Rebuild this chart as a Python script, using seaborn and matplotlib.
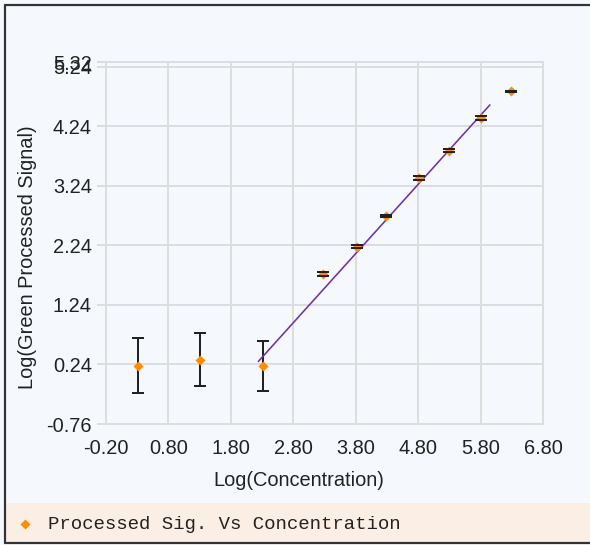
import matplotlib
matplotlib.use("Agg")
import matplotlib.pyplot as plt
import seaborn as sns
import pandas as pd
from matplotlib.patches import Rectangle
from matplotlib.lines import Line2D

# ---- data ----
log_conc = [0.31, 1.31, 2.31, 3.28, 3.82, 4.29, 4.82, 5.30, 5.81, 6.29]
log_signal = [0.22, 0.32, 0.22, 1.76, 2.22, 2.73, 3.37, 3.83, 4.38, 4.83]
signal_err = [0.46, 0.45, 0.42, 0.03, 0.03, 0.02, 0.03, 0.03, 0.03, 0.01]
fit_x = [2.24, 5.95]
fit_y = [0.29, 4.60]
x_ticks = [-0.20, 0.80, 1.80, 2.80, 3.80, 4.80, 5.80, 6.80]
y_ticks = [-0.76, 0.24, 1.24, 2.24, 3.24, 4.24, 5.24, 5.32]
series_name = "Processed Sig. Vs Concentration"
x_label = "Log(Concentration)"
y_label = "Log(Green Processed Signal)"

# ---- styling ----
BG = "#f5f9fe"
LEG_BG = "#fbefe5"
GRID = "#dddddd"
ORANGE = "#ff8c00"
PURPLE = "#7030a8"
TXT = "#222222"
FRAME = "#333333"

sns.set_style("whitegrid")
plt.rcParams["font.family"] = ["Liberation Sans", "DejaVu Sans"]

W, H, DPI = 590, 545, 100
PX = 72.0 / DPI  # points per pixel


def fx(px):
    return px / W


def fy(py):
    return 1 - py / H


df = pd.DataFrame({"x": log_conc, "y": log_signal, "err": signal_err})
fit_df = pd.DataFrame({"x": fit_x, "y": fit_y})

fig = plt.figure(figsize=(W / DPI, H / DPI), dpi=DPI, facecolor=BG)
ax = fig.add_axes([fx(106), fy(424), (543 - 106) / W, (424 - 62) / H])
ax.set_facecolor(BG)

# error bar stems (below markers)
ax.errorbar(df["x"], df["y"], yerr=df["err"], fmt="none", ecolor=TXT,
            elinewidth=2 * PX, capsize=0, zorder=3)
# fit line
sns.lineplot(data=fit_df, x="x", y="y", ax=ax, color=PURPLE,
             linewidth=1.6 * PX, zorder=4)
# points
sns.scatterplot(data=df, x="x", y="y", ax=ax, marker="D", color=ORANGE,
                s=26, linewidth=0, zorder=5, label=series_name, legend=False)
# caps on top
ax.errorbar(df["x"], df["y"], yerr=df["err"], fmt="none", ecolor=TXT,
            elinewidth=0, capsize=4.5, capthick=2 * PX, zorder=6)

ax.set_xlim(x_ticks[0], x_ticks[-1])
ax.set_ylim(y_ticks[0], y_ticks[-1])
ax.set_xticks(x_ticks)
ax.set_xticklabels([f"{v:.2f}" for v in x_ticks])
ax.set_yticks(y_ticks)
ax.set_yticklabels([f"{v:.2f}" for v in y_ticks])
ax.set_xlabel("")
ax.set_ylabel("")

ax.grid(True, color=GRID, linewidth=2 * PX)
for s in ax.spines.values():
    s.set_visible(True)
    s.set_color(GRID)
    s.set_linewidth(2 * PX)

ax.tick_params(axis="y", length=9 * PX, width=2 * PX, color=GRID,
               pad=5 * PX, labelsize=20 * PX, labelcolor=TXT, left=True)
ax.tick_params(axis="x", length=0, pad=15 * PX, labelsize=20 * PX,
               labelcolor=TXT)

fig.text(fx(299), fy(481), x_label, ha="center", va="center",
         fontsize=20 * PX, color=TXT)
fig.text(fx(28), fy(257), y_label, ha="center", va="center",
         rotation=90, fontsize=20 * PX, color=TXT)

# legend strip
fig.add_artist(Rectangle((fx(5), fy(542)), fx(590) - fx(5), (542 - 503) / H,
                         transform=fig.transFigure, facecolor=LEG_BG,
                         edgecolor="none", zorder=0))
handles, labels = ax.get_legend_handles_labels()
leg = fig.legend(handles, labels, loc="center left",
                 bbox_to_anchor=(fx(14), fy(524)), frameon=False,
                 prop={"family": "Liberation Mono", "size": 19 * PX},
                 handletextpad=0.6, handlelength=1.2, borderaxespad=0,
                 borderpad=0)
for t in leg.get_texts():
    t.set_color(TXT)

# outer frame
for xs, ys in [((5, 590), (5, 5)), ((5, 5), (5, 543)), ((5, 590), (543, 543))]:
    fig.add_artist(Line2D([fx(xs[0]), fx(xs[1])], [fy(ys[0]), fy(ys[1])],
                          transform=fig.transFigure, color=FRAME,
                          linewidth=2.2 * PX))

fig.savefig("out.png", dpi=DPI, facecolor=BG)
